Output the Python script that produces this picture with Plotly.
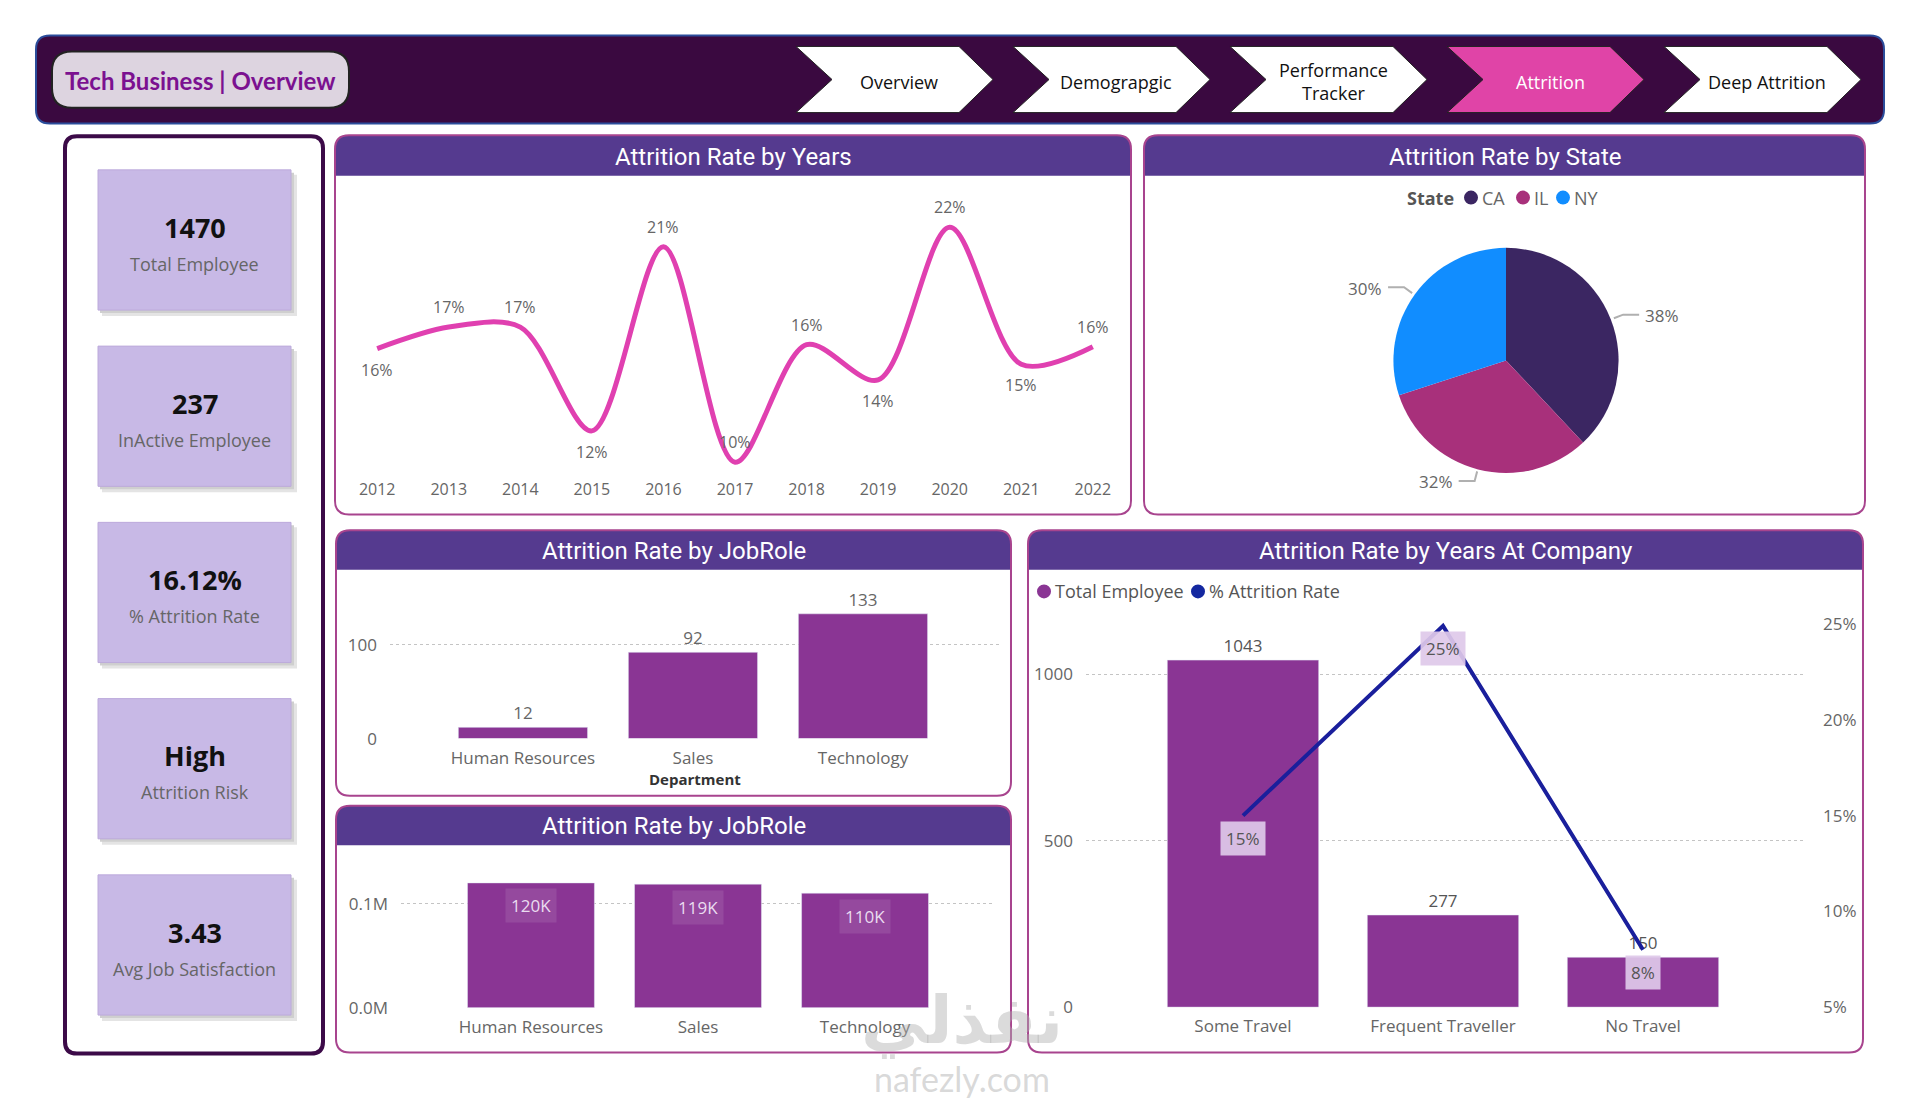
import math
import plotly.graph_objects as go

W, H = 1920, 1110

# ---- data ----
nav_pages = ["Overview", "Demograpgic", "Performance<br>Tracker", "Attrition", "Deep Attrition"]
active_page = "Attrition"

kpi_values = ["1470", "237", "16.12%", "High", "3.43"]
kpi_labels = ["Total Employee", "InActive Employee", "% Attrition Rate", "Attrition Risk", "Avg Job Satisfaction"]

years = [2012, 2013, 2014, 2015, 2016, 2017, 2018, 2019, 2020, 2021, 2022]
year_rate = [15.8, 16.9, 16.9, 11.6, 21.0, 10.0, 16.0, 14.2, 22.0, 15.0, 15.9]

states = ["CA", "IL", "NY"]
state_share = [38, 32, 30]

departments = ["Human Resources", "Sales", "Technology"]
dept_attrition = [12, 92, 133]
dept_salary = [120300, 119100, 110400]

travel = ["Some Travel", "Frequent Traveller", "No Travel"]
travel_employees = [1043, 277, 150]
travel_rate = [15.0, 24.9, 8.0]
rate_ticks = [5, 10, 15, 20, 25]

# ---- styling ----
FONT = "Open Sans"
TITLE_FONT = "Roboto"
PURPLE_BAR = "#8a3594"
HEADER = "#553a8f"
BORDER = "#a8448e"
GRAY = "#666666"
year_label_above = [False, True, True, False, True, True, True, False, True, False, True]
pie_colors = ["#3b2662", "#a8307b", "#118dff"]


def P(x, y):
    return f"{x / W:.5f},{1 - y / H:.5f}"


def rounded(x0, y0, x1, y1, r, top_only=False):
    if top_only:
        return (f"M{P(x0, y1)} L{P(x0, y0 + r)} Q{P(x0, y0)} {P(x0 + r, y0)} "
                f"L{P(x1 - r, y0)} Q{P(x1, y0)} {P(x1, y0 + r)} L{P(x1, y1)} Z")
    return (f"M{P(x0 + r, y0)} L{P(x1 - r, y0)} Q{P(x1, y0)} {P(x1, y0 + r)} "
            f"L{P(x1, y1 - r)} Q{P(x1, y1)} {P(x1 - r, y1)} L{P(x0 + r, y1)} "
            f"Q{P(x0, y1)} {P(x0, y1 - r)} L{P(x0, y0 + r)} Q{P(x0, y0)} {P(x0 + r, y0)} Z")


shapes = []
annotations = []


def add_path(path, fill, line_color=None, line_width=0, layer="below"):
    shapes.append(dict(type="path", path=path, xref="paper", yref="paper", fillcolor=fill,
                       line=dict(color=line_color or fill, width=line_width), layer=layer))


def add_rect(x0, y0, x1, y1, fill, line_color=None, line_width=0):
    shapes.append(dict(type="rect", xref="paper", yref="paper", x0=x0 / W, x1=x1 / W,
                       y0=1 - y1 / H, y1=1 - y0 / H, fillcolor=fill,
                       line=dict(color=line_color or fill, width=line_width), layer="below"))


def add_text(x, y, text, size, color, family=FONT, xanchor="center"):
    annotations.append(dict(x=x / W, y=1 - y / H, xref="paper", yref="paper", text=text,
                            showarrow=False, xanchor=xanchor, yanchor="middle",
                            font=dict(family=family, size=size, color=color)))


# ---- top navigation bar ----
add_path(rounded(36, 33, 1884, 122, 14), "#3a0940", "#2b4d9b", 2)
add_path(rounded(52, 49, 349, 106, 20), "#ddd4e0", "#222222", 2)
add_text(200, 78, "<b>Tech Business | Overview</b>", 24, "#7b1190", family="Lato")

for i, page in enumerate(nav_pages):
    xl = 796 + i * 217
    path = (f"M{P(xl, 44)} L{P(xl + 163, 44)} L{P(xl + 197, 77.5)} L{P(xl + 163, 111)} "
            f"L{P(xl, 111)} L{P(xl + 36, 77.5)} Z")
    active = page == active_page
    add_path(path, "#e044a7" if active else "#ffffff", "#222222", 1)
    add_text(xl + 103, 80, page, 18, "#ffffff" if active else "#111111")

# ---- KPI column ----
add_path(rounded(65, 135, 323, 1064, 12), "#ffffff", "#3c0a48", 4)
for i, (val, lab) in enumerate(zip(kpi_values, kpi_labels)):
    top = 169 + i * 178.5
    add_rect(102, top + 5, 297, top + 148, "#e4e4e4")
    add_rect(100, top + 3, 294, top + 145, "#cfcfcf")
    add_rect(98, top, 291, top + 142, "#c8b9e6", "#bcaadb", 1)
    add_text(194.5, top + 58, f"<b>{val}</b>", 27, "#111111")
    add_text(194.5, top + 95, lab, 18, GRAY)

# ---- chart panels ----
panels = [
    (335, 134, 1131, 518, 175, "Attrition Rate by Years"),
    (1144, 134, 1865, 518, 175, "Attrition Rate by State"),
    (336, 534, 1011, 803, 574, "Attrition Rate by JobRole"),
    (336, 813, 1011, 1063, 853, "Attrition Rate by JobRole"),
    (1028, 534, 1863, 1063, 574, "Attrition Rate by Years At Company"),
]
for x0, y0, x1, y1, hy, title in panels:
    add_path(rounded(x0, y0, x1, y1, 14), "#ffffff")
    add_path(rounded(x0, y0, x1, hy, 14, top_only=True), HEADER)
    shapes.append(dict(type="path", path=rounded(x0, y0, x1, y1, 14), xref="paper", yref="paper",
                       line=dict(color=BORDER, width=2), layer="below"))
    add_text((x0 + x1) / 2, (y0 + hy) / 2 + 1, title, 24, "#ffffff", family=TITLE_FONT)

fig = go.Figure()

# ---- attrition rate by years (line) ----
fig.add_trace(go.Scatter(x=years, y=year_rate, mode="lines", xaxis="x", yaxis="y",
                         line=dict(shape="spline", smoothing=0.9, color="#e040b0", width=5),
                         hoverinfo="x+y"))
for yr, v, above in zip(years, year_rate, year_label_above):
    annotations.append(dict(x=yr, y=v, xref="x", yref="y", text=f"{round(v)}%", showarrow=False,
                            yshift=20 if above else -21,
                            font=dict(family=FONT, size=16, color=GRAY)))

# ---- attrition by state (pie) ----
pie_x0, pie_x1, pie_y0, pie_y1 = 1392, 1620, 248, 476
fig.add_trace(go.Pie(labels=states, values=state_share, sort=False, direction="clockwise",
                     marker=dict(colors=pie_colors), textinfo="none", showlegend=False,
                     domain=dict(x=[pie_x0 / W, pie_x1 / W], y=[1 - pie_y1 / H, 1 - pie_y0 / H])))
cx, cy, R = (pie_x0 + pie_x1) / 2, (pie_y0 + pie_y1) / 2, (pie_x1 - pie_x0) / 2
total = sum(state_share)
cum = 0
for share in state_share:
    mid = (cum + share / 2) / total
    cum += share
    dx, dy = math.sin(2 * math.pi * mid), -math.cos(2 * math.pi * mid)
    sx, sy = cx + (R + 2) * dx, cy + (R + 2) * dy
    ex, ey = cx + (R + 12) * dx, cy + (R + 12) * dy
    side = 1 if dx >= 0 else -1
    hx = ex + side * 16
    shapes.append(dict(type="path", xref="paper", yref="paper", layer="above",
                       path=f"M{P(sx, sy)} L{P(ex, ey)} L{P(hx, ey)}",
                       line=dict(color="#b0b0b0", width=2)))
    add_text(hx + side * 4, ey + 1, f"{share}%", 17, GRAY, xanchor="left" if side > 0 else "right")

# pie legend
add_text(1430, 197, "<b>State</b>", 18, "#555555")
for name, color, dot_x in zip(states, pie_colors, [1471, 1523, 1563]):
    shapes.append(dict(type="circle", xref="paper", yref="paper", x0=(dot_x - 7) / W, x1=(dot_x + 7) / W,
                       y0=1 - (197 + 7) / H, y1=1 - (197 - 7) / H, fillcolor=color,
                       line=dict(width=0), layer="above"))
    add_text(dot_x + 9, 197, name, 18, GRAY, xanchor="left")

# ---- attrition by department (bars) ----
fig.add_trace(go.Bar(x=departments, y=dept_attrition, xaxis="x2", yaxis="y2", width=0.76,
                     marker=dict(color=PURPLE_BAR), text=[str(v) for v in dept_attrition],
                     textposition="outside", cliponaxis=False,
                     textfont=dict(family=FONT, size=17, color=GRAY)))
add_text(695, 786, "<b>Department</b>", 15, "#333333")

# ---- salary by department (bars) ----
fig.add_trace(go.Bar(x=departments, y=dept_salary, xaxis="x3", yaxis="y3", width=0.76,
                     marker=dict(color=PURPLE_BAR), hoverinfo="x+y"))
for d, v in zip(departments, dept_salary):
    annotations.append(dict(x=d, y=v, xref="x3", yref="y3", text=f"{v / 1000:.0f}K", showarrow=False,
                            yshift=-23, bgcolor="rgba(255,255,255,0.10)", borderpad=5,
                            font=dict(family=FONT, size=17, color="#eadcf0")))

# ---- employees and attrition by travel (combo) ----
fig.add_trace(go.Bar(x=travel, y=travel_employees, xaxis="x4", yaxis="y4", width=0.757,
                     marker=dict(color=PURPLE_BAR), text=[str(v) for v in travel_employees],
                     textposition="outside", cliponaxis=False,
                     textfont=dict(family=FONT, size=17, color="#555555")))
fig.add_trace(go.Scatter(x=travel, y=travel_rate, xaxis="x4", yaxis="y5", mode="lines",
                         line=dict(color="#1a1f9c", width=4)))
for t, v in zip(travel, travel_rate):
    annotations.append(dict(x=t, y=v, xref="x4", yref="y5", text=f"{round(v)}%", showarrow=False,
                            yshift=-23, bgcolor="rgba(222,201,233,0.92)", borderpad=5,
                            font=dict(family=FONT, size=17, color="#555555")))

for name, color, dot_x in [("Total Employee", PURPLE_BAR, 1044), ("% Attrition Rate", "#1428a0", 1198)]:
    shapes.append(dict(type="circle", xref="paper", yref="paper", x0=(dot_x - 7) / W, x1=(dot_x + 7) / W,
                       y0=1 - (596 + 7) / H, y1=1 - (596 - 7) / H, fillcolor=color,
                       line=dict(width=0), layer="above"))
    add_text(dot_x + 9, 596, name, 18, "#555555", xanchor="left")

# ---- watermark ----
add_text(962, 1030, "<b>نفذلي</b>", 66, "rgba(175,175,175,0.45)", family="DejaVu Sans")
add_text(962, 1089, "nafezly.com", 34, "rgba(185,185,185,0.55)", family="Lato")


def dom_x(a, b):
    return [a / W, b / W]


def dom_y(top, bottom):
    return [1 - bottom / H, 1 - top / H]


tick = dict(family=FONT, size=17, color=GRAY)
grid = dict(showgrid=True, gridcolor="#c4c4c4", griddash="dot", gridwidth=1, zeroline=False)

fig.update_layout(
    width=W, height=H, margin=dict(l=0, r=0, t=0, b=0),
    paper_bgcolor="#ffffff", plot_bgcolor="rgba(0,0,0,0)", showlegend=False,
    font=dict(family=FONT, color=GRAY), shapes=shapes, annotations=annotations,
    xaxis=dict(domain=dom_x(345, 1120), range=[2011.55, 2022.38], anchor="y", tickvals=years,
               showgrid=False, zeroline=False, tickfont=dict(family=FONT, size=16, color=GRAY),
               ticklabelstandoff=6),
    yaxis=dict(domain=dom_y(190, 475), range=[9.5, 23.87], anchor="x", visible=False),
    xaxis2=dict(domain=dom_x(390, 1000), range=[-0.782, 2.806], anchor="y2", type="category",
                showgrid=False, tickfont=tick, ticklabelstandoff=7),
    yaxis2=dict(domain=dom_y(600, 745), range=[0, 152.6], anchor="x2", tickvals=[0, 100],
                tickfont=tick, ticklabelstandoff=12, **grid),
    xaxis3=dict(domain=dom_x(401, 995), range=[-0.778, 2.778], anchor="y3", type="category",
                showgrid=False, tickfont=tick, ticklabelstandoff=7),
    yaxis3=dict(domain=dom_y(870, 1017.6), range=[0, 140400], anchor="x3", tickvals=[0, 100000],
                ticktext=["0.0M", "0.1M"], tickfont=tick, ticklabelstandoff=12, **grid),
    xaxis4=dict(domain=dom_x(1086, 1805), range=[-0.785, 2.81], anchor="y4", type="category",
                showgrid=False, tickfont=tick, ticklabelstandoff=7),
    yaxis4=dict(domain=dom_y(620, 1017), range=[0, 1178], anchor="x4", tickvals=[0, 500, 1000],
                tickfont=tick, ticklabelstandoff=12, **grid),
    yaxis5=dict(overlaying="y4", side="right", anchor="x4", range=[5, 25.46],
                tickvals=rate_ticks, ticktext=[f"{v}%" for v in rate_ticks], showgrid=False,
                zeroline=False, tickfont=tick, ticklabelstandoff=17),
)

fig.write_html("out.html", config={"displayModeBar": False},
               post_script="document.body.style.margin='0';document.body.style.overflow='hidden';")
